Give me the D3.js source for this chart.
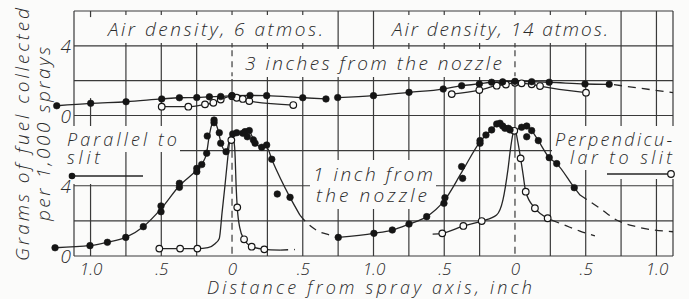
<!DOCTYPE html>
<html>
<head>
<meta charset="utf-8">
<script src="https://cdn.jsdelivr.net/npm/d3@7"></script>
<style>
  body { margin: 0; background: #fbfbfa; }
  svg text { font-family: "Open Sans", "DejaVu Sans", sans-serif; font-style: italic; font-weight: 300; fill: #2a2a2a; }
</style>
</head>
<body>
<svg id="chart" width="689" height="299"></svg>
<script>
// ---- data: [distance from spray axis (inch, signed), grams per 1,000 sprays]
// upper panel, 3 inches from the nozzle
var upperParallel6 = [[-1.239,0.56],[-0.999,0.70],[-0.749,0.79],[-0.497,0.95],[-0.372,1.02],[-0.249,1.03],
  [-0.160,1.07],[-0.080,1.09],[0,1.14],[0.127,1.15],[0.245,1.14],[0.50,1.02],[0.664,0.95]];
var upperPerp6 = [[-0.497,0.505],[-0.309,0.505],[-0.191,0.64],[-0.132,0.73],[-0.080,0.92],[0,1.11],
  [0.033,1.02],[0.076,0.95],[0.122,0.83],[0.433,0.60]];
var upperParallel14 = [[-1.253,1.03],[-1.0,1.14],[-0.749,1.33],[-0.507,1.52],[-0.377,1.71],[-0.252,1.81],
  [-0.165,1.91],[-0.087,1.93],[0,1.96],[0.118,1.94],[0.242,1.91],[0.495,1.81],[0.666,1.79]];
var upperParallel14Dash = [[0.70,1.77],[1.117,1.31]];
var upperPerp14 = [[-0.447,1.23],[-0.252,1.46],[-0.129,1.71],[-0.064,1.78],[0,1.88],[0.047,1.85],
  [0.118,1.79],[0.177,1.69],[0.502,1.31]];

// lower panel, 1 inch from the nozzle
var lowerParallel6 = [[-1.251,0.47],[-1.004,0.59],[-0.881,0.78],[-0.751,1.06],[-0.627,1.67],[-0.502,2.52],
  [-0.502,2.85],[-0.372,3.91],[-0.372,4.14],[-0.249,4.80],[-0.249,4.99],[-0.214,5.21],[-0.179,5.85],
  [-0.175,6.83],[-0.127,7.74],[-0.127,7.59],[-0.090,7.02],[-0.080,6.42],[-0.042,5.94],[0.005,6.95],
  [0.033,7.02],[0.076,6.99],[0.092,7.08],[0.122,7.14],[0.108,6.79],[0.151,6.61],[0.163,6.42],
  [0.210,6.19],[0.245,6.32],[0.281,5.51],[0.320,3.53],[0.410,3.34]];
var lowerParallel6Curve = [[-1.251,0.47],[-1.0,0.6],[-0.881,0.78],[-0.751,1.06],[-0.627,1.67],[-0.502,2.68],
  [-0.372,4.0],[-0.249,4.9],[-0.214,5.21],[-0.179,5.9],[-0.16,6.9],[-0.127,7.7],[-0.1,7.2],[-0.08,6.5],
  [-0.042,5.94],[-0.01,6.8],[0.033,7.0],[0.08,7.03],[0.12,7.1],[0.16,6.5],[0.21,6.2],[0.245,6.2],
  [0.281,5.5],[0.41,3.34],[0.48,2.33]];
var lowerParallel6Dash = [[0.48,2.33],[0.516,1.99],[0.608,1.42],[0.69,1.2],[0.73,1.1]];

var lowerPerp6 = [[-0.514,0.42],[-0.367,0.42],[-0.245,0.42],[-0.005,6.6],[0.037,2.77],[0.085,0.95],
  [0.139,0.53],[0.228,0.38]];
var lowerPerp6Curve = [[-0.53,0.42],[-0.245,0.42],[-0.17,0.48],[-0.12,0.7],[-0.09,1.0],[-0.07,2.5],
  [-0.05,4.0],[-0.03,5.6],[-0.012,6.8],[-0.002,7.0],[0.008,6.8],[0.02,6.0],[0.03,3.8],[0.037,2.77],
  [0.055,1.6],[0.085,0.95],[0.139,0.53],[0.228,0.38],[0.34,0.34]];
var lowerPerp6Dash = [[0.34,0.34],[0.445,0.37]];

var lowerParallel14 = [[-1.249,1.06],[-0.997,1.29],[-0.867,1.48],[-0.749,1.82],[-0.624,2.24],[-0.502,3.0],
  [-0.495,3.32],[-0.377,5.09],[-0.370,4.42],[-0.247,6.57],[-0.247,6.42],[-0.205,6.89],[-0.165,7.18],
  [-0.129,7.52],[-0.106,7.56],[-0.087,7.40],[-0.071,7.27],[-0.047,7.27],[-0.035,7.18],[0.047,7.33],
  [0.083,7.40],[0.083,6.79],[0.118,7.14],[0.165,6.57],[0.242,5.60],[0.295,5.26],[0.419,3.89]];
var lowerParallel14Curve = [[-1.249,1.06],[-0.997,1.29],[-0.867,1.48],[-0.749,1.82],[-0.624,2.24],
  [-0.5,3.15],[-0.374,4.8],[-0.247,6.5],[-0.205,6.89],[-0.165,7.18],[-0.12,7.55],[-0.087,7.4],
  [-0.05,7.27],[-0.02,7.15],[0.01,7.2],[0.047,7.33],[0.083,7.4],[0.118,7.14],[0.165,6.57],
  [0.242,5.6],[0.295,5.26],[0.419,3.89],[0.46,3.47]];
var lowerParallel14Dash = [[0.46,3.47],[0.6,2.72],[0.718,2.05],[0.859,1.67],[1.117,1.38]];

var lowerPerp14 = [[-0.514,1.29],[-0.365,1.71],[-0.235,1.99],[-0.005,7.13],[0.04,5.56],[0.076,3.66],
  [0.141,2.72],[0.231,2.15]];
var lowerPerp14Curve = [[-0.582,1.25],[-0.514,1.29],[-0.365,1.71],[-0.235,1.99],[-0.13,2.33],[-0.085,3.19],
  [-0.05,4.9],[-0.03,6.2],[-0.01,7.05],[0.002,7.12],[0.02,6.5],[0.04,5.56],[0.058,4.6],[0.076,3.66],
  [0.141,2.72],[0.231,2.15],[0.259,2.05]];
var lowerPerp14Dash = [[0.259,2.05],[0.365,1.71],[0.459,1.42],[0.565,1.14]];

// axis ticks (continuous position: left panel centred on 0, right panel on 2)
var xTickPos = [-1, -0.5, 0, 0.5, 1, 1.5, 2, 2.5, 3];
var xTickLabels = ["1.0", ".5", "0", ".5", "1.0", ".5", "0", ".5", "1.0"];
var yTicks = [0, 4];

var svg = d3.select("#chart");
svg.append("rect").attr("width", 689).attr("height", 299).attr("fill", "#fbfbfa");

var x = d3.scaleLinear().domain([-1.117, 3.117]).range([74, 673]);
var yU = d3.scaleLinear().domain([0, 6]).range([115.5, 11]);
var yL = d3.scaleLinear().domain([0, 8]).range([256, 115.5]);

// ---- grid
var grid = svg.append("g").attr("stroke", "#3a3a3a").attr("stroke-width", 1.2).attr("fill", "none");
function seg(x1, y1, x2, y2, dash) {
  grid.append("line").attr("x1", x1).attr("y1", y1).attr("x2", x2).attr("y2", y2)
    .attr("stroke-dasharray", dash || null);
}
[0, 2, 4, 6].forEach(function (v) { seg(74, yU(v), 673, yU(v)); });
[0, 2, 4, 6].forEach(function (v) { seg(74, yL(v), 673, yL(v)); });
seg(74, yU(6), 74, yL(0));
seg(673, yU(6), 673, yL(0));
d3.range(-1, 3.001, 0.25).forEach(function (u) {
  var px = x(u);
  if (u === 0 || u === 2) {
    seg(px, yU(6), px, yU(3.9));
    seg(px, yU(3.75), px, yU(2.25), "6,5");
    seg(px, yU(2.1), px, yL(6));
    seg(px, yL(6), px, yL(0), "7,5");
  } else if (u === -1) {
    seg(px, yU(6), px, yU(5.65));
    seg(px, yU(1.0), px, yU(0));
    seg(px, yL(8), px, yL(0));
  } else {
    seg(px, yU(6), px, yL(0));
  }
});

// masks behind lettering
var masks = svg.append("g").attr("fill", "#fbfbfa");
masks.append("rect").attr("x", 62).attr("y", 164).attr("width", 38).attr("height", 20);
masks.append("rect").attr("x", 600).attr("y", 166).attr("width", 80).attr("height", 13);

// ---- curves
var plot = svg.append("g");
function curve(data, shift, ys, dash) {
  var ln = d3.line().x(function (d) { return x(d[0] + shift); })
    .y(function (d) { return ys(d[1]); }).curve(d3.curveMonotoneX);
  plot.append("path").datum(data).attr("d", ln).attr("fill", "none")
    .attr("stroke", "#262626").attr("stroke-width", 1.3)
    .attr("stroke-dasharray", dash ? "8,6" : null);
}
function dots(data, shift, ys, open) {
  plot.selectAll(null).data(data).enter().append("circle")
    .attr("cx", function (d) { return x(d[0] + shift); })
    .attr("cy", function (d) { return ys(d[1]); })
    .attr("r", 3.3)
    .attr("fill", open ? "#fbfbfa" : "#151515")
    .attr("stroke", "#151515").attr("stroke-width", open ? 1.2 : 0.6);
}

curve(upperParallel6, 0, yU); curve(upperPerp6, 0, yU);
curve(upperParallel14, 2, yU); curve(upperParallel14Dash, 2, yU, true); curve(upperPerp14, 2, yU);
curve(lowerParallel6Curve, 0, yL); curve(lowerParallel6Dash, 0, yL, true);
curve(lowerPerp6Curve, 0, yL); curve(lowerPerp6Dash, 0, yL, true);
curve(lowerParallel14Curve, 2, yL); curve(lowerParallel14Dash, 2, yL, true);
curve(lowerPerp14Curve, 2, yL); curve(lowerPerp14Dash, 2, yL, true);

dots(upperPerp6, 0, yU, true); dots(upperParallel6, 0, yU, false);
dots(upperPerp14, 2, yU, true); dots(upperParallel14, 2, yU, false);
dots(lowerPerp6, 0, yL, true); dots(lowerParallel6, 0, yL, false);
dots(lowerPerp14, 2, yL, true); dots(lowerParallel14, 2, yL, false);

// legend samples
plot.append("line").attr("x1", 72).attr("y1", 176).attr("x2", 143).attr("y2", 176)
  .attr("stroke", "#262626").attr("stroke-width", 1.4);
plot.append("circle").attr("cx", 72).attr("cy", 176).attr("r", 3.3).attr("fill", "#151515");
plot.append("line").attr("x1", 607).attr("y1", 174).attr("x2", 671).attr("y2", 174)
  .attr("stroke", "#262626").attr("stroke-width", 1.4);
plot.append("circle").attr("cx", 671).attr("cy", 174).attr("r", 3.3).attr("fill", "#fbfbfa")
  .attr("stroke", "#151515").attr("stroke-width", 1.2);

// ---- axes (labels only)
var xAxis = svg.append("g").attr("transform", "translate(0,275)")
  .call(d3.axisBottom(x).tickValues(xTickPos).tickSize(0)
    .tickFormat(function (d, i) { return xTickLabels[i]; }));
xAxis.select(".domain").remove();
xAxis.selectAll("text").attr("y", 0).attr("dy", 0).style("font-size", "17px");

[yU, yL].forEach(function (ys) {
  var ax = svg.append("g").attr("transform", "translate(71,0)")
    .call(d3.axisLeft(ys).tickValues(yTicks).tickSize(0).tickPadding(0).tickFormat(d3.format("d")));
  ax.select(".domain").remove();
  ax.selectAll("text").attr("dy", "0.36em").style("font-size", "19px");
});

// ---- lettering
var notes = svg.append("g").style("font-size", "19px");
function note(txt, x0, y0, len, boxed, size) {
  var t = notes.append("text").attr("x", x0).attr("y", y0)
    .attr("textLength", len).attr("lengthAdjust", "spacing").text(txt);
  if (size) t.style("font-size", size);
  if (boxed) {
    var b = t.node().getBBox();
    masks.append("rect").attr("x", b.x - 3).attr("y", b.y - 1)
      .attr("width", b.width + 6).attr("height", b.height + 2);
  }
}
note("Air density, 6 atmos.", 108, 36, 215, true);
note("Air density, 14 atmos.", 392, 36, 216, true);
note("3 inches from the nozzle", 245, 70, 257, true);
note("Parallel to", 67, 146, 110, true, "18px");
note("slit", 67, 164, 33, true, "18px");
note("Perpendicu-", 555, 146, 117, true, "18px");
note("lar to slit", 570, 164, 102, true, "18px");
note("1 inch from", 313, 181, 120, true);
note("the nozzle", 316, 202, 111, true);
note("Distance from spray axis, inch", 207, 294, 325, false, "18px");

notes.append("text").attr("transform", "translate(29,261) rotate(-90)")
  .attr("textLength", 253).attr("lengthAdjust", "spacing").text("Grams of fuel collected");
notes.append("text").attr("transform", "translate(50,221) rotate(-90)")
  .attr("textLength", 174).attr("lengthAdjust", "spacing").text("per 1,000 sprays");
</script>
</body>
</html>
